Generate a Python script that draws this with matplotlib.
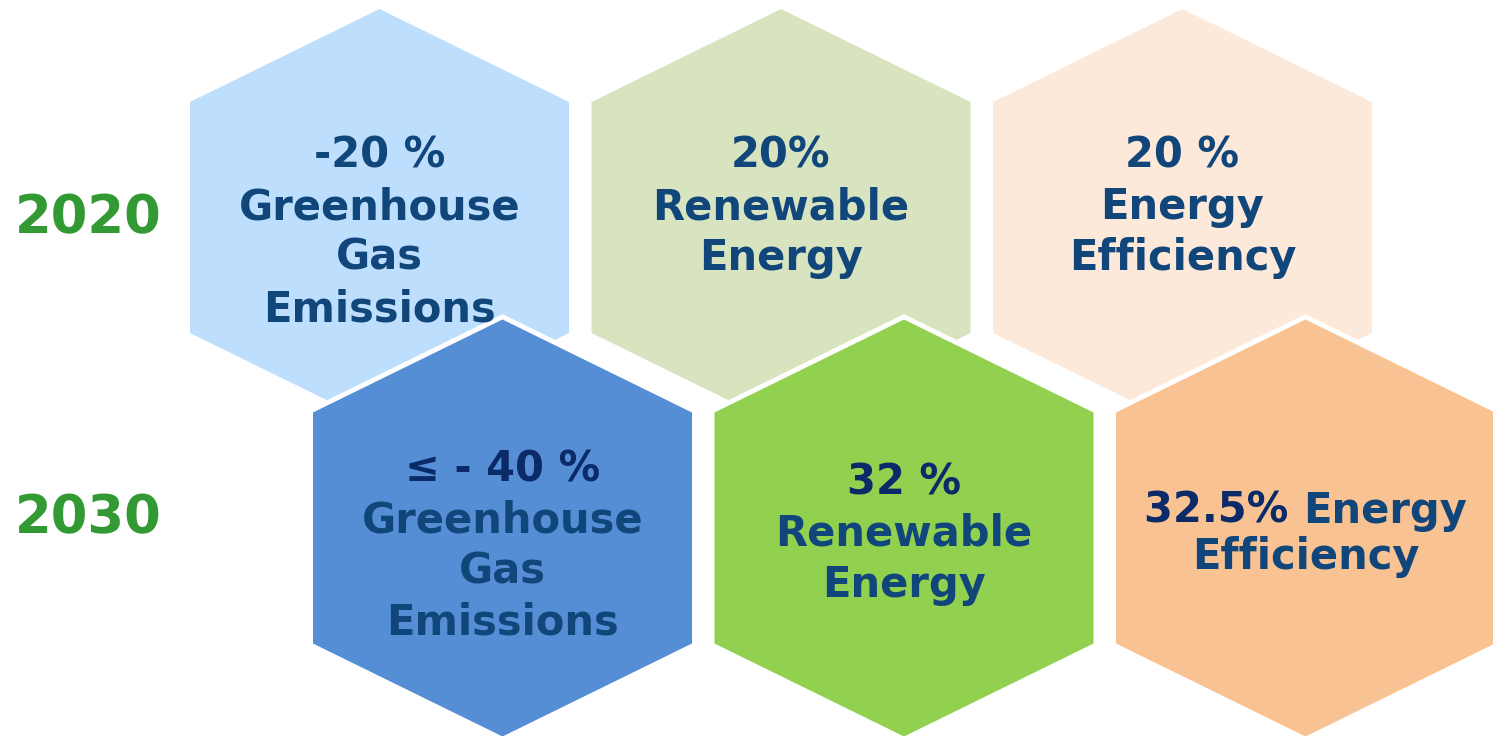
import matplotlib
matplotlib.use("Agg")
import matplotlib.pyplot as plt
from matplotlib.patches import Polygon

# ---------------- data ----------------
years = ["2020", "2030"]
targets_2020 = [
    ["-20 %", "Greenhouse", "Gas", "Emissions"],
    ["20%", "Renewable", "Energy"],
    ["20 %", "Energy", "Efficiency"],
]
targets_2030 = [
    ["\u2264 - 40 %", "Greenhouse", "Gas", "Emissions"],
    ["32 %", "Renewable", "Energy"],
    ["32.5% Energy", "Efficiency"],
]
colors_2020 = ["#BDDFFD", "#D8E4C0", "#FDE9DA"]
colors_2030 = ["#558ED5", "#92D050", "#F9C293"]
text_color = "#10467A"
headline_color_2030 = "#0A2A68"
year_color = "#339933"

# ---------------- layout (pixels) ----------------
W, H = 1493, 736
fig = plt.figure(figsize=(W / 100, H / 100), dpi=100)
ax = fig.add_axes([0, 0, 1, 1])
ax.set_xlim(0, W)
ax.set_ylim(H, 0)
ax.axis("off")

hw, hh, drop = 189.5, 208.5, 93.0
col_step = 401.5
rows = [
    dict(x0=379.5, cy=217.5, texts=targets_2020, colors=colors_2020,
         first_base=[159, 159, 159], spacing=[51, 51, 51], outline=False,
         year_base=233),
    dict(x0=502.5, cy=528.0, texts=targets_2030, colors=colors_2030,
         first_base=[162, 175, 203], spacing=[51, 51, 47], outline=True,
         year_base=533),
]


def hexagon(cx, cy):
    return [(cx, cy - hh), (cx + hw, cy - hh + drop), (cx + hw, cy + hh - drop),
            (cx, cy + hh), (cx - hw, cy + hh - drop), (cx - hw, cy - hh + drop)]


for r, (row, year) in enumerate(zip(rows, years)):
    ax.text(88, row["year_base"], year, ha="center", va="baseline",
            fontsize=38, fontweight="bold", color=year_color,
            family="DejaVu Sans")
    for c, (lines, col) in enumerate(zip(row["texts"], row["colors"])):
        cx = row["x0"] + c * col_step
        cy = row["cy"]
        pts = hexagon(cx, cy)
        z = 2 + r * 2
        if row["outline"]:
            ax.add_patch(Polygon(pts, closed=True, facecolor="white",
                                 edgecolor="white", linewidth=7,
                                 joinstyle="miter", zorder=z))
        ax.add_patch(Polygon(pts, closed=True, facecolor=col,
                             edgecolor="none", zorder=z + 0.5))
        top = cy - hh
        for i, line in enumerate(lines):
            color = text_color
            if r == 1 and i == 0:
                color = headline_color_2030
            if r == 1 and c == 2 and i == 0:
                # two-coloured first line: "32.5%" navy, "Energy" blue
                t1 = ax.text(cx, top + row["first_base"][c], line,
                             ha="center", va="baseline", fontsize=30,
                             fontweight="bold", color=text_color,
                             family="DejaVu Sans", zorder=10)
                fig.canvas.draw()
                bb = t1.get_window_extent()
                inv = ax.transData.inverted()
                x_left = inv.transform((bb.x0, bb.y0))[0]
                t1.set_text("")
                part1 = ax.text(x_left, top + row["first_base"][c], "32.5% ",
                                ha="left", va="baseline", fontsize=30,
                                fontweight="bold", color=headline_color_2030,
                                family="DejaVu Sans", zorder=10)
                fig.canvas.draw()
                bb1 = part1.get_window_extent()
                x_mid = inv.transform((bb1.x1, bb1.y0))[0]
                ax.text(x_mid, top + row["first_base"][c], "Energy",
                        ha="left", va="baseline", fontsize=30,
                        fontweight="bold", color=text_color,
                        family="DejaVu Sans", zorder=10)
                continue
            ax.text(cx, top + row["first_base"][c] + i * row["spacing"][c], line,
                    ha="center", va="baseline", fontsize=30, fontweight="bold",
                    color=color, family="DejaVu Sans", zorder=10)

fig.savefig("out.png", dpi=100, facecolor="white")
